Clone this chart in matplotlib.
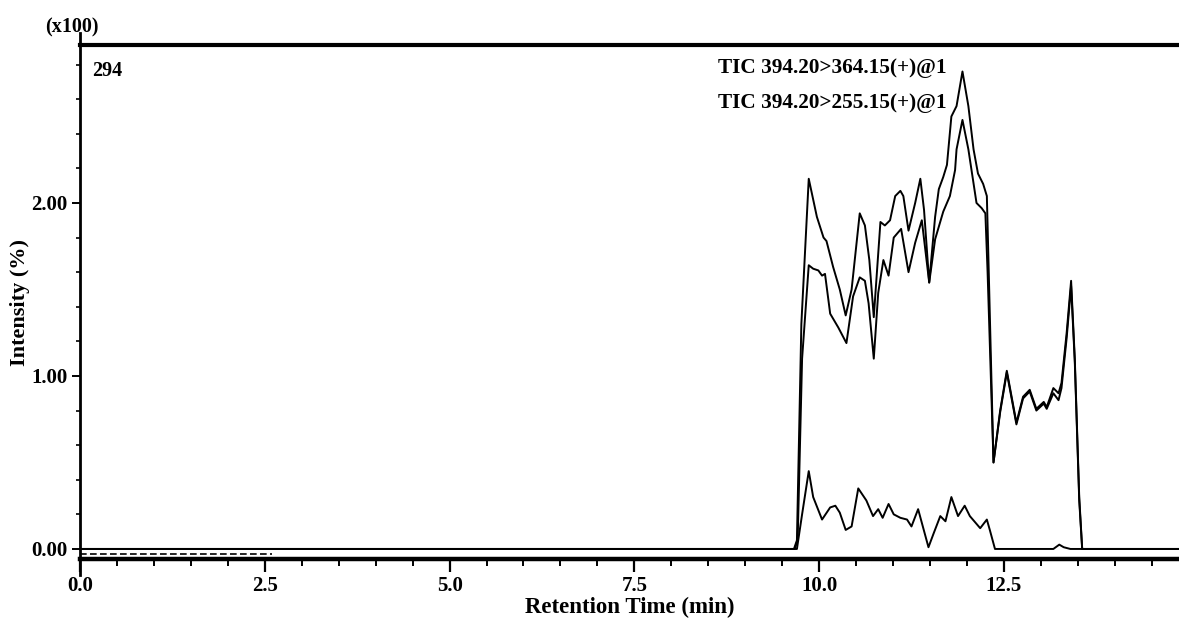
import matplotlib
matplotlib.use('Agg')
import matplotlib.pyplot as plt
from matplotlib.ticker import MultipleLocator, FormatStrFormatter

plt.rcParams['font.family'] = ['Liberation Serif', 'DejaVu Serif']
plt.rcParams['font.weight'] = 'bold'

# upper trace
t_a = [0.0, 9.66, 9.70, 9.76, 9.86, 9.97, 10.06, 10.10, 10.19, 10.28, 10.36, 10.44, 10.55,
       10.62, 10.68, 10.74, 10.83, 10.89, 10.96, 11.03, 11.10, 11.14, 11.21, 11.30, 11.37,
       11.42, 11.49, 11.57, 11.62, 11.68, 11.73, 11.79, 11.86, 11.94, 12.02, 12.09, 12.15,
       12.22, 12.27, 12.29, 12.36, 12.45, 12.54, 12.67, 12.76, 12.85, 12.94, 13.04, 13.08,
       13.17, 13.24, 13.28, 13.35, 13.41, 13.46, 13.52, 13.56, 13.60, 14.87]
y_a = [0.0, 0.0, 0.05, 1.30, 2.14, 1.92, 1.80, 1.78, 1.63, 1.50, 1.35, 1.50, 1.94,
       1.87, 1.67, 1.34, 1.89, 1.87, 1.90, 2.04, 2.07, 2.04, 1.84, 2.00, 2.14,
       1.96, 1.54, 1.92, 2.08, 2.15, 2.22, 2.50, 2.56, 2.76, 2.56, 2.31, 2.17,
       2.11, 2.04, 1.70, 0.50, 0.80, 1.03, 0.73, 0.88, 0.92, 0.81, 0.85, 0.82,
       0.93, 0.90, 0.96, 1.25, 1.55, 1.10, 0.30, 0.0, 0.0, 0.0]

# middle trace
t_b = [0.0, 9.67, 9.71, 9.77, 9.86, 9.92, 9.99, 10.04, 10.08, 10.15, 10.26, 10.37, 10.46,
       10.55, 10.62, 10.67, 10.74, 10.80, 10.87, 10.94, 11.01, 11.11, 11.21, 11.30, 11.39,
       11.49, 11.57, 11.68, 11.77, 11.84, 11.86, 11.94, 12.02, 12.13, 12.20, 12.25, 12.28,
       12.36, 12.45, 12.54, 12.67, 12.76, 12.85, 12.94, 13.04, 13.08, 13.17, 13.24, 13.28,
       13.35, 13.41, 13.46, 13.52, 13.56, 13.60, 14.87]
y_b = [0.0, 0.0, 0.05, 1.10, 1.64, 1.62, 1.61, 1.58, 1.59, 1.36, 1.28, 1.19, 1.46,
       1.57, 1.55, 1.42, 1.10, 1.48, 1.67, 1.58, 1.80, 1.85, 1.60, 1.77, 1.90,
       1.54, 1.79, 1.95, 2.04, 2.19, 2.31, 2.48, 2.31, 2.00, 1.97, 1.94, 1.60,
       0.50, 0.79, 1.02, 0.72, 0.87, 0.91, 0.80, 0.84, 0.81, 0.90, 0.86, 0.93,
       1.22, 1.52, 1.08, 0.28, 0.0, 0.0, 0.0]

# lower trace
t_c = [0.0, 9.70, 9.77, 9.86, 9.92, 10.04, 10.15, 10.22, 10.28, 10.36, 10.44, 10.53, 10.64,
       10.73, 10.80, 10.86, 10.94, 11.01, 11.10, 11.19, 11.25, 11.34, 11.48, 11.55, 11.64,
       11.71, 11.79, 11.88, 11.97, 12.04, 12.18, 12.27, 12.31, 12.38, 13.17, 13.25, 13.31,
       13.40, 14.87]
y_c = [0.0, 0.0, 0.20, 0.45, 0.30, 0.17, 0.24, 0.25, 0.21, 0.11, 0.13, 0.35, 0.28,
       0.19, 0.23, 0.18, 0.26, 0.20, 0.18, 0.17, 0.13, 0.23, 0.01, 0.09, 0.19,
       0.16, 0.30, 0.19, 0.25, 0.19, 0.12, 0.17, 0.11, 0.0, 0.0, 0.025, 0.01,
       0.0, 0.0]

# noisy baseline stretch near the axis
t_noise = [0.0, 2.6]
y_noise = [-0.03, -0.03]

fig = plt.figure(figsize=(11.79, 6.35), dpi=100)
ax = fig.add_axes([0.0679, 0.1197, 0.9321, 0.8094])

ax.plot(t_a, y_a, color='black', lw=1.4)
ax.plot(t_b, y_b, color='black', lw=1.4)
ax.plot(t_c, y_c, color='black', lw=1.4)
ax.plot(t_noise, y_noise, color='black', lw=1.2, ls=(0, (4, 2)))

ax.set_xlim(0, 14.87)
ax.set_ylim(-0.058, 2.913)

ax.spines['right'].set_visible(False)
ax.spines['top'].set_linewidth(3)
ax.spines['bottom'].set_linewidth(3.2)
ax.spines['left'].set_linewidth(2)
ax.spines['left'].set_bounds(-0.15, 2.98)

ax.xaxis.set_major_locator(MultipleLocator(2.5))
ax.xaxis.set_minor_locator(MultipleLocator(0.5))
ax.xaxis.set_major_formatter(FormatStrFormatter('%.1f'))
ax.yaxis.set_minor_locator(MultipleLocator(0.2))
ax.set_yticks([0.0, 1.0, 2.0])
ax.yaxis.set_major_formatter(FormatStrFormatter('%.2f'))

ax.tick_params(axis='x', which='major', direction='out', length=9, width=1.6, labelsize=15, pad=3)
ax.tick_params(axis='x', which='minor', direction='out', length=5, width=1.4)
ax.tick_params(axis='y', which='major', direction='out', length=6, width=1.4, labelsize=15, pad=3)
ax.tick_params(axis='y', which='minor', direction='out', length=3, width=1.2)
for lab in ax.get_xticklabels() + ax.get_yticklabels():
    lab.set_fontweight('bold')

ax.set_xlabel('Retention Time (min)', fontsize=16.5, fontweight='bold', labelpad=1)
ax.set_ylabel('Intensity (%)', fontsize=16, fontweight='bold', labelpad=1)

fig.text(45 / 1179, 1 - 27 / 635, '(x100)', fontsize=14.5, fontweight='bold', va='center', ha='left')
fig.text(92 / 1179, 1 - 71 / 635, '294', fontsize=14.5, fontweight='bold', va='center', ha='left')
fig.text(718 / 1179, 1 - 68 / 635, 'TIC 394.20>364.15(+)@1', fontsize=15.3, fontweight='bold', va='center', ha='left')
fig.text(718 / 1179, 1 - 103 / 635, 'TIC 394.20>255.15(+)@1', fontsize=15.3, fontweight='bold', va='center', ha='left')

fig.savefig('out.png', dpi=100)
